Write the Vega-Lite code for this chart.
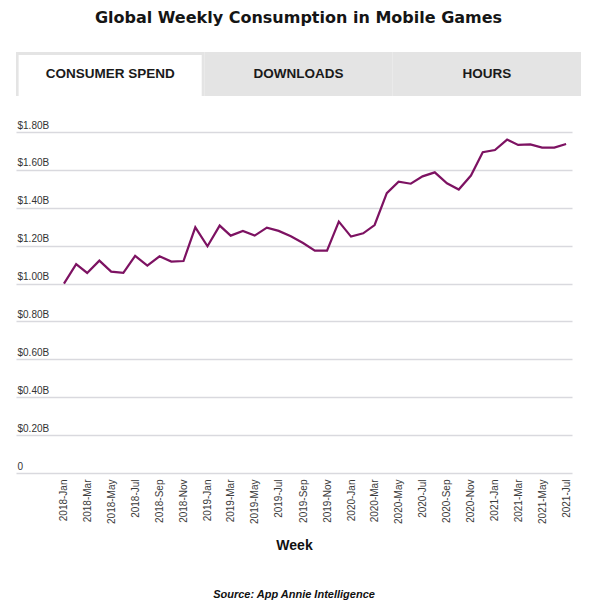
{
  "$schema": "https://vega.github.io/schema/vega-lite/v6.json",
  "background": "white",
  "padding": {"left": 16, "top": 10, "right": 19, "bottom": 2},
  "bounds": "flush",
  "spacing": 36,
  "title": {
    "text": "Global Weekly Consumption in Mobile Games",
    "font": "DejaVu Sans",
    "fontSize": 16,
    "fontWeight": "bold",
    "color": "#151515",
    "anchor": "middle",
    "offset": 26
  },
  "config": {
    "view": {"stroke": null},
    "font": "Liberation Sans"
  },
  "vconcat": [
    {
      "width": 565,
      "height": 44,
      "data": {
        "values": [
          {"tab": "CONSUMER SPEND", "active": true},
          {"tab": "DOWNLOADS", "active": false},
          {"tab": "HOURS", "active": false}
        ]
      },
      "encoding": {
        "x": {
          "field": "tab",
          "type": "nominal",
          "sort": null,
          "scale": {"paddingInner": 0, "paddingOuter": 0},
          "axis": null
        }
      },
      "layer": [
        {"mark": {"type": "bar", "color": "#e4e4e4"}},
        {
          "transform": [{"filter": "datum.active"}],
          "mark": {"type": "bar", "color": "#ffffff", "width": {"band": 0.972}, "yOffset": 3}
        },
        {
          "mark": {"type": "text", "font": "Liberation Sans", "fontSize": 13.5, "fontWeight": "bold", "color": "#1a1a1a"},
          "encoding": {"text": {"field": "tab"}}
        }
      ]
    },
    {
      "width": 556,
      "height": 341,
      "title": {
        "text": "Source: App Annie Intelligence",
        "orient": "bottom",
        "anchor": "middle",
        "font": "Liberation Sans",
        "fontSize": 11,
        "fontStyle": "italic",
        "fontWeight": "bold",
        "color": "#111111",
        "offset": 37
      },
      "data": {
        "values": [
          {"date": "2018-01-01", "spend": 1.000},
          {"date": "2018-02-01", "spend": 1.103},
          {"date": "2018-03-01", "spend": 1.056},
          {"date": "2018-04-01", "spend": 1.121},
          {"date": "2018-05-01", "spend": 1.063},
          {"date": "2018-06-01", "spend": 1.056},
          {"date": "2018-07-01", "spend": 1.146},
          {"date": "2018-08-01", "spend": 1.095},
          {"date": "2018-09-01", "spend": 1.144},
          {"date": "2018-10-01", "spend": 1.116},
          {"date": "2018-11-01", "spend": 1.119},
          {"date": "2018-12-01", "spend": 1.297},
          {"date": "2019-01-01", "spend": 1.197},
          {"date": "2019-02-01", "spend": 1.306},
          {"date": "2019-03-01", "spend": 1.253},
          {"date": "2019-04-01", "spend": 1.278},
          {"date": "2019-05-01", "spend": 1.253},
          {"date": "2019-06-01", "spend": 1.295},
          {"date": "2019-07-01", "spend": 1.278},
          {"date": "2019-08-01", "spend": 1.250},
          {"date": "2019-09-01", "spend": 1.214},
          {"date": "2019-10-01", "spend": 1.174},
          {"date": "2019-11-01", "spend": 1.174},
          {"date": "2019-12-01", "spend": 1.327},
          {"date": "2020-01-01", "spend": 1.248},
          {"date": "2020-02-01", "spend": 1.265},
          {"date": "2020-03-01", "spend": 1.309},
          {"date": "2020-04-01", "spend": 1.477},
          {"date": "2020-05-01", "spend": 1.538},
          {"date": "2020-06-01", "spend": 1.527},
          {"date": "2020-07-01", "spend": 1.566},
          {"date": "2020-08-01", "spend": 1.587},
          {"date": "2020-09-01", "spend": 1.529},
          {"date": "2020-10-01", "spend": 1.496},
          {"date": "2020-11-01", "spend": 1.570},
          {"date": "2020-12-01", "spend": 1.693},
          {"date": "2021-01-01", "spend": 1.705},
          {"date": "2021-02-01", "spend": 1.760},
          {"date": "2021-03-01", "spend": 1.732},
          {"date": "2021-04-01", "spend": 1.735},
          {"date": "2021-05-01", "spend": 1.718},
          {"date": "2021-06-01", "spend": 1.718},
          {"date": "2021-07-01", "spend": 1.737}
        ]
      },
      "mark": {"type": "line", "color": "#7d1262", "strokeWidth": 2.2},
      "encoding": {
        "x": {
          "field": "date",
          "type": "temporal",
          "scale": {
            "type": "utc",
            "domain": [
              {"year": 2017, "month": 9, "date": 1, "utc": true},
              {"year": 2021, "month": 7, "date": 16, "utc": true}
            ]
          },
          "axis": {
            "values": [
              {"year": 2018, "month": 1, "date": 1, "utc": true},
              {"year": 2018, "month": 3, "date": 1, "utc": true},
              {"year": 2018, "month": 5, "date": 1, "utc": true},
              {"year": 2018, "month": 7, "date": 1, "utc": true},
              {"year": 2018, "month": 9, "date": 1, "utc": true},
              {"year": 2018, "month": 11, "date": 1, "utc": true},
              {"year": 2019, "month": 1, "date": 1, "utc": true},
              {"year": 2019, "month": 3, "date": 1, "utc": true},
              {"year": 2019, "month": 5, "date": 1, "utc": true},
              {"year": 2019, "month": 7, "date": 1, "utc": true},
              {"year": 2019, "month": 9, "date": 1, "utc": true},
              {"year": 2019, "month": 11, "date": 1, "utc": true},
              {"year": 2020, "month": 1, "date": 1, "utc": true},
              {"year": 2020, "month": 3, "date": 1, "utc": true},
              {"year": 2020, "month": 5, "date": 1, "utc": true},
              {"year": 2020, "month": 7, "date": 1, "utc": true},
              {"year": 2020, "month": 9, "date": 1, "utc": true},
              {"year": 2020, "month": 11, "date": 1, "utc": true},
              {"year": 2021, "month": 1, "date": 1, "utc": true},
              {"year": 2021, "month": 3, "date": 1, "utc": true},
              {"year": 2021, "month": 5, "date": 1, "utc": true},
              {"year": 2021, "month": 7, "date": 1, "utc": true}
            ],
            "labelExpr": "utcFormat(datum.value, '%Y-%b')",
            "labelAngle": 270,
            "labelFont": "Liberation Sans",
            "labelFontSize": 10,
            "labelColor": "#3a3a3a",
            "labelPadding": 6,
            "labelOverlap": false,
            "ticks": false,
            "domain": false,
            "grid": false,
            "title": "Week",
            "titleFont": "Liberation Sans",
            "titleFontSize": 14,
            "titleFontWeight": "bold",
            "titleColor": "#111111",
            "titlePadding": 15
          }
        },
        "y": {
          "field": "spend",
          "type": "quantitative",
          "scale": {"domain": [0, 1.8], "nice": false, "zero": true},
          "axis": {
            "values": [0, 0.2, 0.4, 0.6, 0.8, 1.0, 1.2, 1.4, 1.6, 1.8],
            "labelExpr": "datum.value == 0 ? '0' : '$' + format(datum.value, '.2f') + 'B'",
            "labelAlign": "left",
            "labelBaseline": "alphabetic",
            "labelPadding": -1,
            "labelOffset": -4,
            "labelFont": "Liberation Sans",
            "labelFontSize": 10,
            "labelColor": "#333333",
            "ticks": false,
            "domain": false,
            "grid": true,
            "gridColor": "#d9d9de",
            "gridWidth": 1.3,
            "title": null
          }
        }
      }
    }
  ]
}
